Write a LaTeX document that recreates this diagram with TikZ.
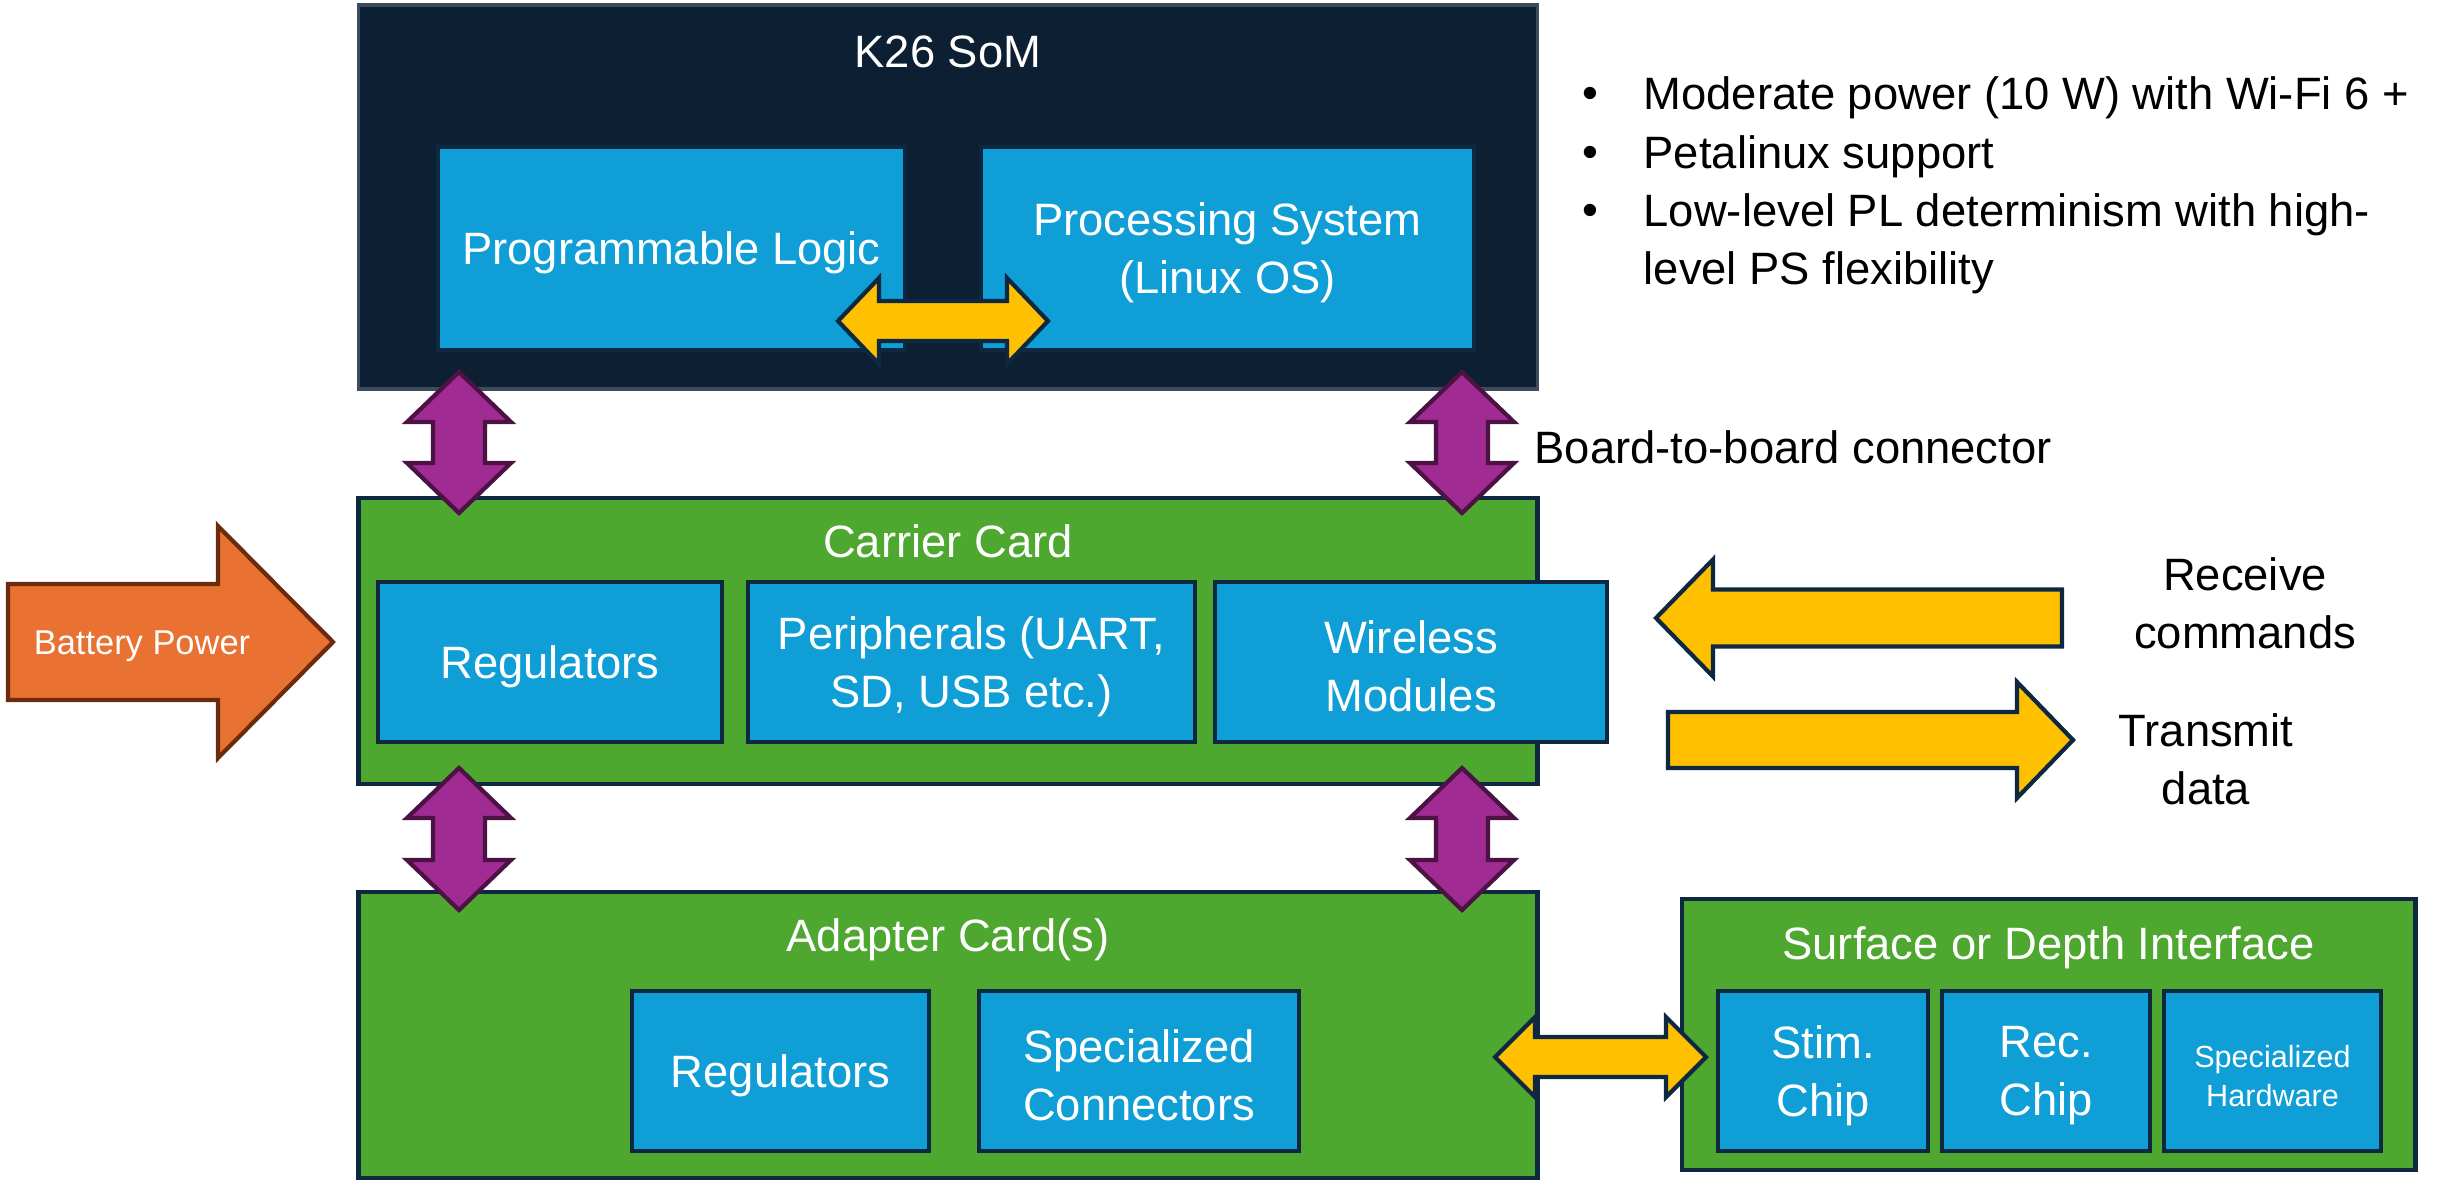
\documentclass[tikz,border=0pt]{standalone}
\usepackage{fontspec}
\setmainfont{Liberation Sans}
\definecolor{navy}{HTML}{0D1F33}
\definecolor{bord}{HTML}{0E2841}
\definecolor{cblue}{HTML}{0F9ED5}
\definecolor{cgreen}{HTML}{4EA72E}
\definecolor{corange}{HTML}{E97132}
\definecolor{cobord}{HTML}{6A2C0C}
\definecolor{cpurple}{HTML}{A02B93}
\definecolor{cpbord}{HTML}{4C1244}
\definecolor{cyellow}{HTML}{FFC000}
\newcommand\dblH[7]{%
 \draw[#1] (#2,#4) -- ({#2+#7},{#4-#6}) -- ({#2+#7},{#4-#5}) -- ({#3-#7},{#4-#5}) -- ({#3-#7},{#4-#6}) -- (#3,#4) -- ({#3-#7},{#4+#6}) -- ({#3-#7},{#4+#5}) -- ({#2+#7},{#4+#5}) -- ({#2+#7},{#4+#6}) -- cycle;}
\newcommand\dblV[7]{%
 \draw[#1] (#2,#3) -- ({#2+#6},{#3+#7}) -- ({#2+#5},{#3+#7}) -- ({#2+#5},{#4-#7}) -- ({#2+#6},{#4-#7}) -- (#2,#4) -- ({#2-#6},{#4-#7}) -- ({#2-#5},{#4-#7}) -- ({#2-#5},{#3+#7}) -- ({#2-#6},{#3+#7}) -- cycle;}
\newcommand\sglR[7]{%
 \draw[#1] (#2,{#4-#5}) -- ({#3-#7},{#4-#5}) -- ({#3-#7},{#4-#6}) -- (#3,#4) -- ({#3-#7},{#4+#6}) -- ({#3-#7},{#4+#5}) -- (#2,{#4+#5}) -- cycle;}
\newcommand\sglL[7]{%
 \draw[#1] (#2,{#4-#5}) -- ({#3+#7},{#4-#5}) -- ({#3+#7},{#4-#6}) -- (#3,#4) -- ({#3+#7},{#4+#6}) -- ({#3+#7},{#4+#5}) -- (#2,{#4+#5}) -- cycle;}
\tikzset{
  somstyle/.style={fill=navy, draw=navy!80!white, line width=1pt},
  bluebox/.style={fill=cblue, draw=bord, line width=1.3pt, inner sep=0pt},
  greenbox/.style={fill=cgreen, draw=bord, line width=1.3pt, inner sep=0pt},
  wtext/.style={text=white, align=center, yshift=-1.3pt, font=\fontsize{12.9}{16.5}\selectfont},
  btext/.style={text=black, align=center, yshift=-1.3pt, font=\fontsize{12.9}{16.5}\selectfont},
  yarrow/.style={fill=cyellow, draw=bord, line width=1.2pt, line join=miter},
  parrow/.style={fill=cpurple, draw=cpbord, line width=1.2pt, line join=miter},
  oarrow/.style={fill=corange, draw=cobord, line width=1.2pt, line join=miter},
}
\begin{document}
\begin{tikzpicture}[x=0.01cm,y=-0.01cm]
\useasboundingbox (0,0) rectangle (2440,1182);
% SoM
\node[somstyle, minimum width=11.78cm, minimum height=3.84cm] (som) at (948,197) {};
\node[wtext] (somtitle) at (948,47) {K26 SoM};
\node[bluebox, minimum width=4.67cm, minimum height=2.03cm] (pl) at (671.5,248.5) {};
\node[wtext] (pltext) at (pl) {Programmable Logic};
\node[bluebox, minimum width=4.93cm, minimum height=2.03cm] (ps) at (1227.5,248.5) {};
\node[wtext] (pstext) at (ps) {Processing System\\(Linux OS)};
\dblH{yarrow}{838}{1048}{321}{20}{43}{41}
% bullets
\node[btext, anchor=center] (b1) at (1590,93) {•};
\node[btext, anchor=center] (b2) at (1590,152) {•};
\node[btext, anchor=center] (b3) at (1590,210) {•};
\node[btext, anchor=west, inner sep=0pt] (l1) at (1643,93) {Moderate power (10 W) with Wi-Fi 6 +};
\node[btext, anchor=west, inner sep=0pt] (l2) at (1643,152) {Petalinux support};
\node[btext, anchor=west, inner sep=0pt] (l3) at (1643,210) {Low-level PL determinism with high-};
\node[btext, anchor=west, inner sep=0pt] (l4) at (1643,268) {level PS flexibility};
% carrier
\node[greenbox, minimum width=11.78cm, minimum height=2.86cm] (carrier) at (948,641) {};
\node[wtext] (ctitle) at (948,537) {Carrier Card};
\node[bluebox, minimum width=3.44cm, minimum height=1.60cm] (creg) at (550,662) {};
\node[wtext] (cregtext) at (creg) {Regulators};
\node[bluebox, minimum width=4.47cm, minimum height=1.60cm] (periph) at (971.5,662) {};
\node[wtext] (periphtext) at (periph) {Peripherals (UART,\\SD, USB etc.)};
\node[bluebox, minimum width=3.92cm, minimum height=1.60cm] (wireless) at (1411,662) {};
\node[wtext] (wirelesstext) at (wireless) {Wireless\\Modules};
% adapter
\node[greenbox, minimum width=11.78cm, minimum height=2.86cm] (adapter) at (948,1035) {};
\node[wtext] (atitle) at (948,935) {Adapter Card(s)};
\node[bluebox, minimum width=2.97cm, minimum height=1.60cm] (areg) at (780.5,1071) {};
\node[wtext] (aregtext) at (areg) {Regulators};
\node[bluebox, minimum width=3.20cm, minimum height=1.60cm] (sconn) at (1139,1071) {};
\node[wtext] (sconntext) at (sconn) {Specialized\\Connectors};
% surface
\node[greenbox, minimum width=7.33cm, minimum height=2.71cm] (surface) at (2048.5,1034.5) {};
\node[wtext] (stitle) at (2048.5,943) {Surface or Depth Interface};
\node[bluebox, minimum width=2.10cm, minimum height=1.60cm] (stim) at (1823,1071) {};
\node[wtext] (stimtext) at (stim) {Stim.\\Chip};
\node[bluebox, minimum width=2.08cm, minimum height=1.60cm] (rec) at (2046,1071) {};
\node[wtext] (rectext) at (rec) {Rec.\\Chip};
\node[bluebox, minimum width=2.17cm, minimum height=1.60cm] (shw) at (2272.5,1071) {};
\node[wtext, font=\fontsize{8.7}{11.1}\selectfont] (shwtext) at (shw) {Specialized\\Hardware};
% purple connectors
\dblV{parrow}{459}{372}{513}{26}{52}{50}
\dblV{parrow}{1462}{372}{513}{26}{52}{50}
\dblV{parrow}{459}{768}{910}{26}{52}{50}
\dblV{parrow}{1462}{768}{910}{26}{52}{50}
\node[btext, anchor=west, inner sep=0pt] (b2b) at (1534,443) {Board-to-board connector};
% battery
\sglR{oarrow}{8}{333}{642}{58}{116}{115}
\node[wtext, font=\fontsize{9.8}{12}\selectfont] (battery) at (142,642) {Battery Power};
% wireless arrows
\sglL{yarrow}{2062}{1656}{618}{28.5}{58.5}{57}
\sglR{yarrow}{1668}{2073}{740}{28}{58}{56}
\node[btext] (recv) at (2245,599) {Receive\\commands};
\node[btext] (trans) at (2206,755) {Transmit\\data};
% adapter-surface arrow
\dblH{yarrow}{1495}{1706}{1057}{20}{40}{40}
\end{tikzpicture}
\end{document}
